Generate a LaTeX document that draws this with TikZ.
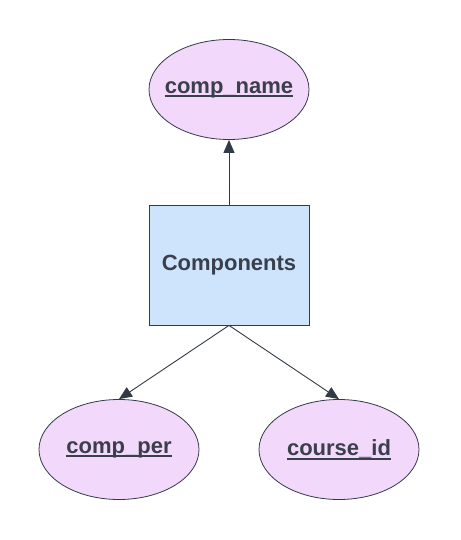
\documentclass[tikz,border=0pt]{standalone}
\usepackage{fontspec}
\setmainfont{Liberation Sans}
\usetikzlibrary{shapes.geometric,arrows.meta}
\definecolor{attrfill}{HTML}{F2D9FB}
\definecolor{entfill}{HTML}{CEE4FD}
\definecolor{inkline}{HTML}{333A47}
\definecolor{inktext}{HTML}{3A3F4B}
\tikzset{
  attr/.style={ellipse, draw=inkline, fill=attrfill, line width=0.8pt,
    minimum width=160pt, minimum height=100pt, inner sep=0pt,
    text=inktext, font=\fontsize{22}{26}\selectfont\bfseries},
  entity/.style={rectangle, draw=inkline, fill=entfill, line width=0.8pt,
    minimum width=160pt, minimum height=120pt, inner sep=0pt,
    text=inktext, font=\fontsize{22}{26}\selectfont\bfseries},
  link/.style={draw=inkline, line width=0.9pt,
    -{Triangle[length=13pt,width=11pt]}}
}
% key attribute: text with a solid rule under it, drawn over zero width so
% the ellipse keeps its fixed size
\newcommand{\keyattr}[1]{\makebox[0pt]{%
  \setbox0\hbox{#1}%
  \rlap{\raisebox{-4.2pt}{\rule{\wd0}{1.9pt}}}\box0}}
\begin{document}
\begin{tikzpicture}[x=1pt,y=-1pt]
\useasboundingbox (0,0) rectangle (460,540);
\node[attr] (name) at (229,89.5) {\keyattr{comp\_name}};
\node[entity] (comp) at (229,265) {Components};
\node[attr] (per) at (119,449.5) {\keyattr{comp\_per}};
\node[attr] (course) at (339,449.5) {\keyattr{course\_id}};
\draw[link] (comp.north) -- (name.south);
\draw[link] (comp.south) -- (per.north);
\draw[link] (comp.south) -- (course.north);
\end{tikzpicture}
\end{document}
